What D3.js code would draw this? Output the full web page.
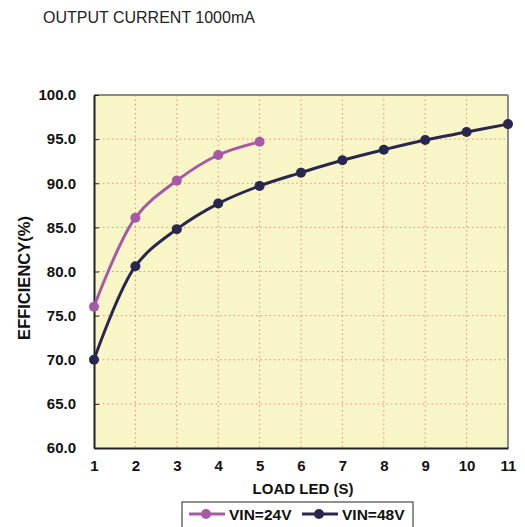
<!DOCTYPE html>
<html>
<head>
<meta charset="utf-8">
<script src="https://cdn.jsdelivr.net/npm/d3@7"></script>
<style>
  body { margin: 0; background: #fff; }
  text { font-family: "Liberation Sans", Arial, sans-serif; }
</style>
</head>
<body>
<script>
// data
const loads = [1, 2, 3, 4, 5, 6, 7, 8, 9, 10, 11];
const vin24 = [76.0, 86.1, 90.3, 93.2, 94.7];
const vin48 = [70.0, 80.6, 84.8, 87.7, 89.7, 91.2, 92.6, 93.8, 94.9, 95.8, 96.7];
const yTicks = [60, 65, 70, 75, 80, 85, 90, 95, 100];
const seriesNames = ["VIN=24V", "VIN=48V"];

const colors = {
    v24: "#A659A6",
    v48: "#29264F",
    plot: "#F8F5C7",
    grid: "#F08A80"
};

const svg = d3.select("body").append("svg")
    .attr("width", 525)
    .attr("height", 527);

const m = { left: 94, right: 508, top: 95, bottom: 448 };

const x = d3.scaleLinear().domain([1, 11]).range([m.left, m.right]);
const y = d3.scaleLinear().domain([60, 100]).range([m.bottom, m.top]);

// title
svg.append("text")
    .attr("x", 43)
    .attr("y", 23)
    .style("font-size", "16px")
    .style("fill", "#222")
    .text("OUTPUT CURRENT 1000mA");

// plot background
svg.append("rect")
    .attr("x", m.left)
    .attr("y", m.top)
    .attr("width", m.right - m.left)
    .attr("height", m.bottom - m.top)
    .style("fill", colors.plot);

// grid lines
svg.selectAll(".hgrid")
    .data(yTicks.filter(d => d > 60 && d < 100))
    .enter().append("line")
    .attr("x1", m.left).attr("x2", m.right)
    .attr("y1", d => y(d)).attr("y2", d => y(d))
    .style("stroke", colors.grid)
    .style("stroke-width", 1)
    .style("stroke-dasharray", "1.5,3");

svg.selectAll(".vgrid")
    .data(loads.filter(d => d > 1 && d < 11))
    .enter().append("line")
    .attr("x1", d => x(d)).attr("x2", d => x(d))
    .attr("y1", m.top).attr("y2", m.bottom)
    .style("stroke", colors.grid)
    .style("stroke-width", 1)
    .style("stroke-dasharray", "1.5,3");

// frame: top/right grey, left/bottom dark
svg.append("line")
    .attr("x1", m.left).attr("x2", m.right)
    .attr("y1", m.top).attr("y2", m.top)
    .style("stroke", "#8a8a8a").style("stroke-width", 2);
svg.append("line")
    .attr("x1", m.right).attr("x2", m.right)
    .attr("y1", m.top).attr("y2", m.bottom)
    .style("stroke", "#8a8a8a").style("stroke-width", 2);

// axes
const yAxis = d3.axisLeft(y).tickValues(yTicks).tickFormat(d3.format(".1f"))
    .tickSizeInner(-5).tickSizeOuter(0).tickPadding(18);
const gy = svg.append("g").attr("transform", `translate(${m.left},0)`).call(yAxis);
gy.select(".domain").style("stroke", "#222").style("stroke-width", 2);
gy.selectAll(".tick line").style("stroke", "#222");
gy.selectAll(".tick text")
    .style("font-size", "15px").style("font-weight", "bold").style("fill", "#111")
    .style("font-family", "'Liberation Sans', Arial, sans-serif");

const xAxis = d3.axisBottom(x).tickValues(loads).tickFormat(d3.format("d"))
    .tickSize(0).tickSizeOuter(0).tickPadding(12);
const gx = svg.append("g").attr("transform", `translate(0,${m.bottom})`).call(xAxis);
gx.select(".domain").style("stroke", "#222").style("stroke-width", 2);
gx.selectAll(".tick text")
    .style("font-size", "15px").style("font-weight", "bold").style("fill", "#111")
    .style("font-family", "'Liberation Sans', Arial, sans-serif");

// axis titles
svg.append("text")
    .attr("x", 303)
    .attr("y", 494)
    .attr("text-anchor", "middle")
    .style("font-size", "15px").style("font-weight", "bold").style("fill", "#111")
    .text("LOAD LED (S)");

svg.append("text")
    .attr("transform", "translate(30,278) rotate(-90)")
    .attr("text-anchor", "middle")
    .style("font-size", "16.5px").style("font-weight", "bold").style("fill", "#111")
    .text("EFFICIENCY(%)");

// series
const series = [
    { name: seriesNames[0], values: vin24, color: colors.v24 },
    { name: seriesNames[1], values: vin48, color: colors.v48 }
];

const line = d3.line()
    .x((d, i) => x(loads[i]))
    .y(d => y(d))
    .curve(d3.curveCatmullRom.alpha(0.5));

series.forEach(s => {
    svg.append("path")
        .datum(s.values)
        .attr("d", line)
        .style("fill", "none")
        .style("stroke", s.color)
        .style("stroke-width", 3);

    svg.selectAll(null)
        .data(s.values)
        .enter().append("circle")
        .attr("cx", (d, i) => x(loads[i]))
        .attr("cy", d => y(d))
        .attr("r", 5)
        .style("fill", s.color);
});

// legend
const lg = svg.append("g");
lg.append("rect")
    .attr("x", 182).attr("y", 502)
    .attr("width", 231).attr("height", 30)
    .style("fill", "#fff")
    .style("stroke", "#222")
    .style("stroke-width", 1);

const legendX = [189, 302];
series.forEach((s, i) => {
    const lx = legendX[i];
    lg.append("line")
        .attr("x1", lx).attr("x2", lx + 36)
        .attr("y1", 514).attr("y2", 514)
        .style("stroke", s.color).style("stroke-width", 3);
    lg.append("circle")
        .attr("cx", lx + 17).attr("cy", 514).attr("r", 5)
        .style("fill", s.color);
    lg.append("text")
        .attr("x", lx + 40).attr("y", 520)
        .style("font-size", "15.5px").style("font-weight", "bold").style("fill", "#111")
        .text(s.name);
});
</script>
</body>
</html>
